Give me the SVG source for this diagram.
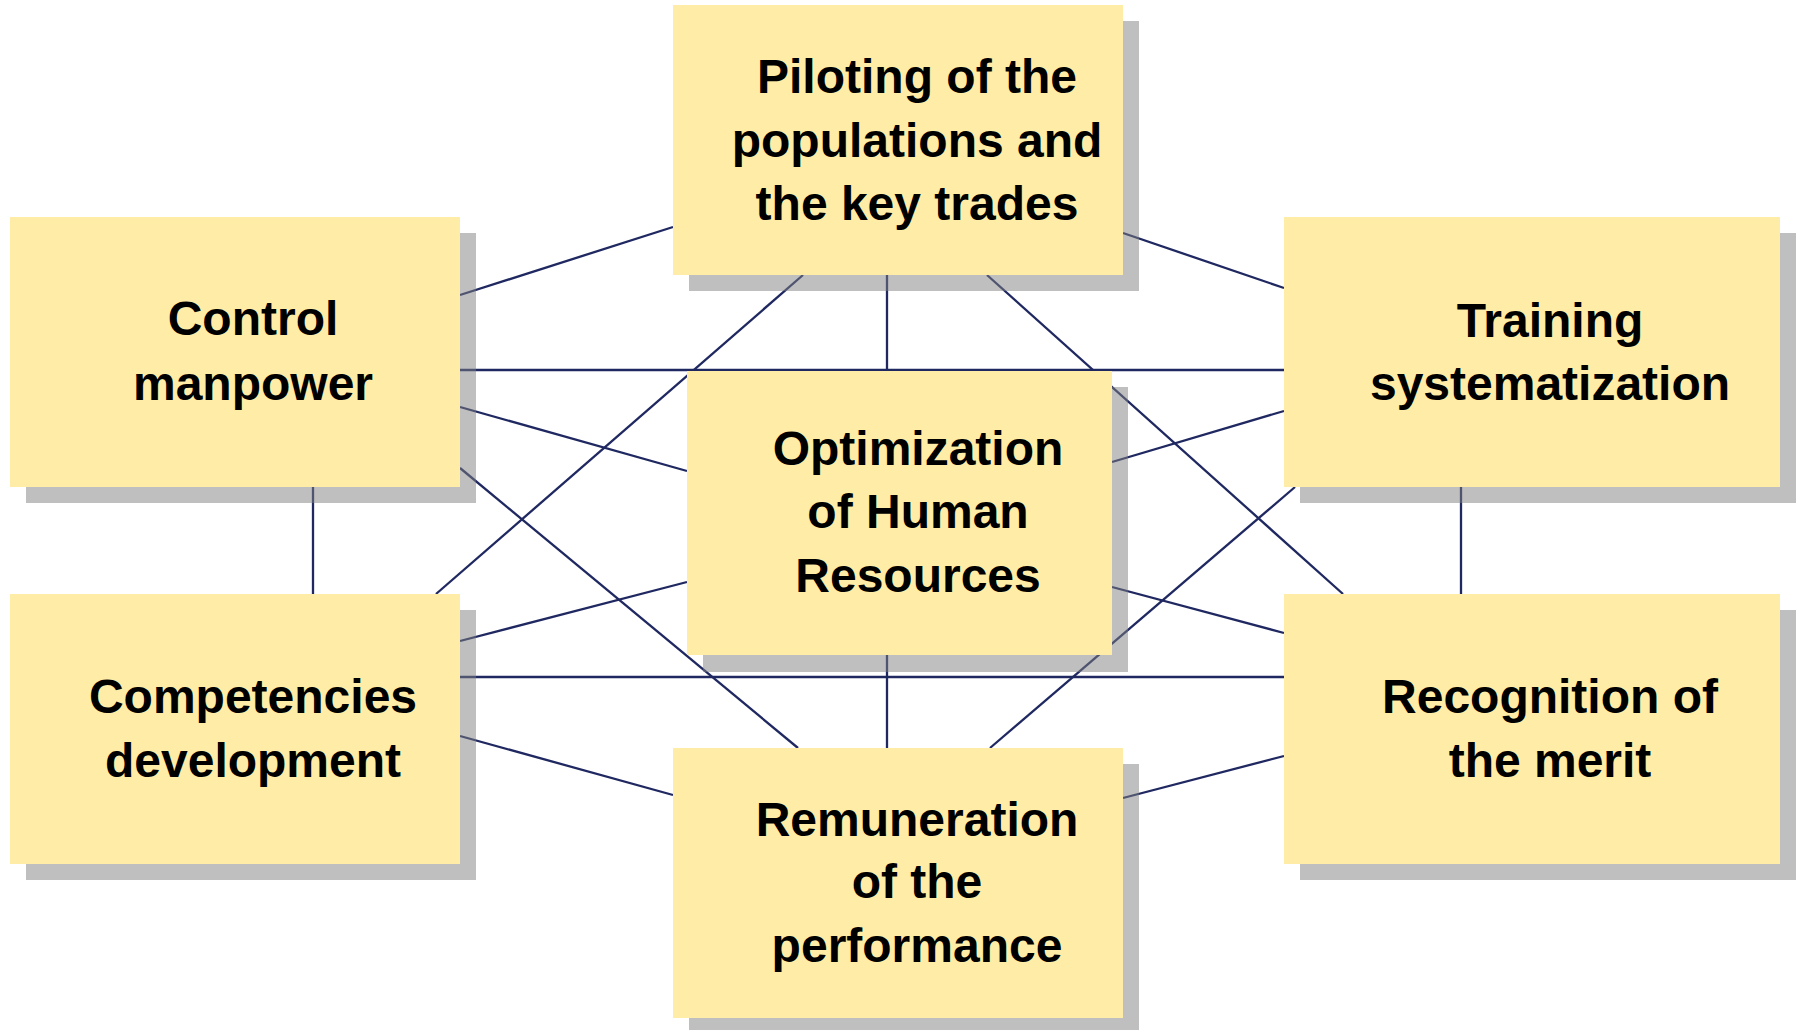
<svg xmlns="http://www.w3.org/2000/svg" width="1801" height="1030" viewBox="0 0 1801 1030">
<style>
.bg{fill:#ffffff}
.shadow{fill:#808080;fill-opacity:0.5}
.box{fill:#FFECA6}
.lbl{font-family:"Liberation Sans",Arial,sans-serif;font-weight:bold;font-size:48px;fill:#000000;text-anchor:middle}
.conn line{stroke:#1F2860;stroke-width:2.3;fill:none}
</style>
<rect class="bg" x="0" y="0" width="1801" height="1030"/>
<g id="connectors" class="conn">
<line x1="460" y1="295" x2="673" y2="227"/>
<line x1="460" y1="370" x2="1284" y2="370"/>
<line x1="460" y1="407" x2="687" y2="471"/>
<line x1="460" y1="468" x2="798" y2="748"/>
<line x1="313" y1="487" x2="313" y2="594"/>
<line x1="803" y1="275" x2="436" y2="594"/>
<line x1="887" y1="275" x2="887" y2="371"/>
<line x1="987" y1="275" x2="1343" y2="594"/>
<line x1="1123" y1="233" x2="1284" y2="288"/>
<line x1="1284" y1="411" x2="1112" y2="462"/>
<line x1="1295" y1="487" x2="990" y2="748"/>
<line x1="1461" y1="487" x2="1461" y2="594"/>
<line x1="687" y1="582" x2="460" y2="641"/>
<line x1="1112" y1="587" x2="1284" y2="633"/>
<line x1="460" y1="677" x2="1284" y2="677"/>
<line x1="887" y1="655" x2="887" y2="748"/>
<line x1="460" y1="736" x2="673" y2="795"/>
<line x1="1284" y1="756" x2="1123" y2="798"/>
</g>
<g id="node-control">
<rect class="shadow" x="26" y="233" width="450" height="270"/>
<rect class="box" x="10" y="217" width="450" height="270"/>
<text class="lbl" x="253" y="335">Control</text>
<text class="lbl" x="253" y="400">manpower</text>
</g>
<g id="node-piloting">
<rect class="shadow" x="689" y="21" width="450" height="270"/>
<rect class="box" x="673" y="5" width="450" height="270"/>
<text class="lbl" x="917" y="93">Piloting of the</text>
<text class="lbl" x="917" y="157">populations and</text>
<text class="lbl" x="917" y="220">the key trades</text>
</g>
<g id="node-training">
<rect class="shadow" x="1300" y="233" width="496" height="270"/>
<rect class="box" x="1284" y="217" width="496" height="270"/>
<text class="lbl" x="1550" y="337">Training</text>
<text class="lbl" x="1550" y="400">systematization</text>
</g>
<g id="node-optimization">
<rect class="shadow" x="703" y="387" width="425" height="285"/>
<rect class="box" x="687" y="371" width="425" height="284"/>
<text class="lbl" x="918" y="465">Optimization</text>
<text class="lbl" x="918" y="528">of Human</text>
<text class="lbl" x="918" y="592">Resources</text>
</g>
<g id="node-competencies">
<rect class="shadow" x="26" y="610" width="450" height="270"/>
<rect class="box" x="10" y="594" width="450" height="270"/>
<text class="lbl" x="253" y="713">Competencies</text>
<text class="lbl" x="253" y="777">development</text>
</g>
<g id="node-recognition">
<rect class="shadow" x="1300" y="610" width="496" height="270"/>
<rect class="box" x="1284" y="594" width="496" height="270"/>
<text class="lbl" x="1550" y="713">Recognition of</text>
<text class="lbl" x="1550" y="777">the merit</text>
</g>
<g id="node-remuneration">
<rect class="shadow" x="689" y="764" width="450" height="270"/>
<rect class="box" x="673" y="748" width="450" height="270"/>
<text class="lbl" x="917" y="836">Remuneration</text>
<text class="lbl" x="917" y="898">of the</text>
<text class="lbl" x="917" y="962">performance</text>
</g>
</svg>
